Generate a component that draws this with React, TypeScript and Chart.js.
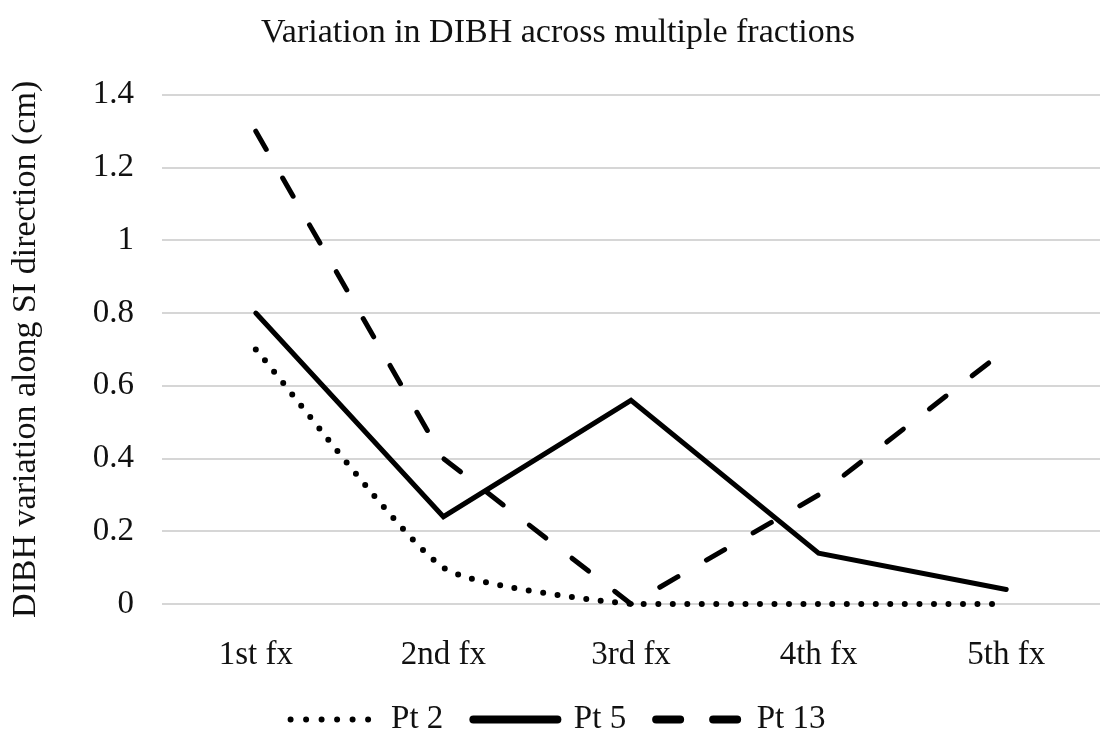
import React, { useEffect, useRef } from "react";
import { Chart, registerables } from "chart.js";

Chart.register(...registerables);

const TITLE = "Variation in DIBH across multiple fractions";
const Y_TITLE = "DIBH variation along SI direction (cm)";
const categories = ["1st fx", "2nd fx", "3rd fx", "4th fx", "5th fx"];
const pt2 = [0.7, 0.1, 0, 0, 0];
const pt5 = [0.8, 0.24, 0.56, 0.14, 0.04];
const pt13 = [1.3, 0.4, 0, 0.3, 0.7];
const seriesNames = ["Pt 2", "Pt 5", "Pt 13"];

const FONT = "'Liberation Serif', 'Times New Roman', serif";

export default function App() {
  const ref = useRef<HTMLCanvasElement | null>(null);
  useEffect(() => {
    document.body.style.margin = "0";
    const canvas = ref.current;
    if (!canvas) return;
    const dashes = [[0, 14.5], [], [21, 33]];
    const chart = new Chart(canvas, {
      type: "line",
      data: {
        labels: categories,
        datasets: [
          {
            label: seriesNames[0],
            data: pt2,
            borderColor: "#000",
            borderWidth: 6,
            borderDash: dashes[0],
            borderCapStyle: "round",
            tension: 0.18,
            pointRadius: 0,
            clip: false,
          },
          {
            label: seriesNames[1],
            data: pt5,
            borderColor: "#000",
            borderWidth: 5,
            borderDash: dashes[1],
            borderCapStyle: "round",
            tension: 0,
            pointRadius: 0,
            clip: false,
          },
          {
            label: seriesNames[2],
            data: pt13,
            borderColor: "#000",
            borderWidth: 5,
            borderDash: dashes[2],
            borderCapStyle: "round",
            tension: 0,
            pointRadius: 0,
            clip: false,
          },
        ],
      },
      options: {
        animation: false,
        responsive: false,
        maintainAspectRatio: false,
        layout: { padding: { left: 16, right: 7, top: 0, bottom: -15 } },
        scales: {
          x: {
            offset: true,
            grid: { display: false, drawTicks: false },
            border: { display: false },
            ticks: {
              color: "#111",
              font: { family: FONT, size: 33 },
              padding: 32,
              maxRotation: 0,
              autoSkip: false,
            },
            afterFit: (s: any) => {
              s.height = 69;
            },
          },
          y: {
            min: 0,
            max: 1.4,
            grid: { color: "#d6d6d6", lineWidth: 2, drawTicks: false },
            border: { display: false },
            ticks: {
              stepSize: 0.2,
              color: "#111",
              font: { family: FONT, size: 33 },
              padding: 28,
              callback: (v: any) => String(Math.round(Number(v) * 10) / 10),
            },
            title: {
              display: true,
              text: Y_TITLE,
              color: "#111",
              font: { family: FONT, size: 34, weight: "normal" },
              padding: { top: -10, bottom: 0 },
            },
            afterFit: (s: any) => {
              s.width = 146;
            },
          },
        },
        plugins: {
          title: {
            display: true,
            text: TITLE,
            color: "#111",
            font: { family: FONT, size: 34, weight: "normal" },
            padding: { top: 13, bottom: 41 },
          },
          tooltip: { enabled: false },
          legend: {
            position: "bottom",
            labels: {
              usePointStyle: true,
              pointStyleWidth: 84,
              padding: 30,
              color: "#111",
              font: { family: FONT, size: 33 },
              generateLabels: () =>
                seriesNames.map((n, i) => ({
                  text: n,
                  datasetIndex: i,
                  pointStyle: "line",
                  strokeStyle: "#000",
                  fillStyle: "#000",
                  lineWidth: i === 0 ? 6 : 8,
                  lineDash: i === 0 ? [0, 15.5] : i === 2 ? [24, 33] : [],
                  lineCap: "round",
                  fontColor: "#111",
                  hidden: false,
                })),
            },
          },
        },
      } as any,
    });
    return () => chart.destroy();
  }, []);
  return (
    <div style={{ width: 1107, height: 731 }}>
      <canvas ref={ref} width={1107} height={731} style={{ display: "block" }} />
    </div>
  );
}
